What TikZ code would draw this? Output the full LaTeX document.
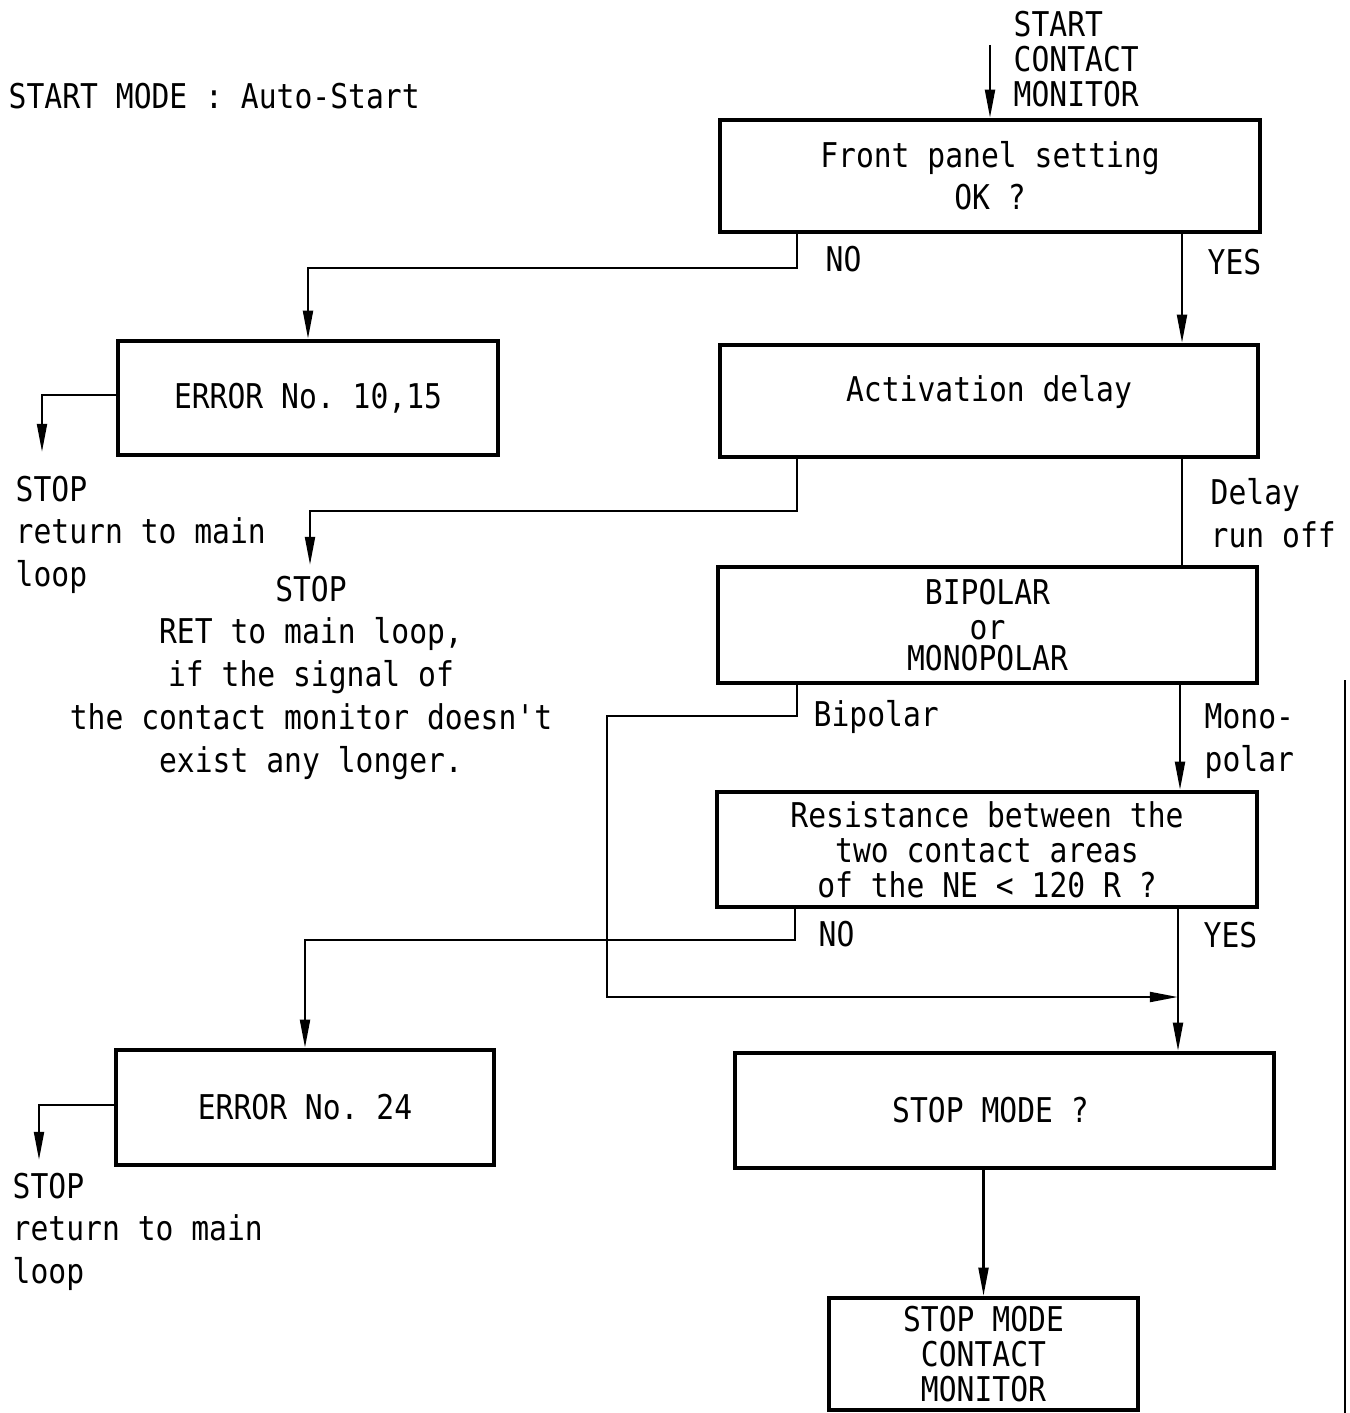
\documentclass[tikz,border=0pt]{standalone}
\usepackage{fontspec}
\setmonofont[FakeStretch=0.87]{DejaVu Sans Mono}
\usetikzlibrary{arrows.meta}

\begin{document}
\begin{tikzpicture}[x=0.01cm,y=-0.01cm,
  every node/.style={font=\ttfamily\fontsize{9.7}{10}\selectfont},
  box/.style={draw, line width=1.2pt, inner sep=0pt},
  wire/.style={line width=0.7pt},
  arr/.style={wire, -{Triangle[length=8pt,width=2.8pt]}},
  lbl/.style={inner sep=0pt, anchor=north west, align=left},
  lblwide/.style={lbl, font=\ttfamily\fontsize{9.7}{12.2}\selectfont},
]
\useasboundingbox (0,0) rectangle (1349,1413);

% title
\node[lbl] (title) at (8,82) {START MODE : Auto-Start};

% process and decision boxes
\node[box, align=center, minimum width=5.40cm, minimum height=1.12cm] (b1) at (990,176)
  {Front panel setting\\[0.07cm]OK ?};
\node[box, minimum width=3.80cm, minimum height=1.14cm] (err1) at (308,398)
  {ERROR No. 10,15};
\node[box, minimum width=5.38cm, minimum height=1.12cm,
      text height=0.25cm, text depth=0.24cm] (b2) at (989,401)
  {Activation delay};
\node[box, align=center, minimum width=5.39cm, minimum height=1.16cm] (b3) at (987.5,625)
  {BIPOLAR\\or\\[-0.05cm]MONOPOLAR};
\node[box, align=center, minimum width=5.40cm, minimum height=1.15cm] (b4) at (987,849.5)
  {Resistance between the\\two contact areas\\of the NE < 120 R ?};
\node[box, minimum width=3.78cm, minimum height=1.15cm] (err2) at (305,1107.5)
  {ERROR No. 24};
\node[box, minimum width=5.39cm, minimum height=1.15cm] (b6) at (1004.5,1110.5)
  {STOP MODE ?\hspace*{0.28cm}};
\node[box, align=center, minimum width=3.09cm, minimum height=1.12cm] (b7) at (983.5,1354)
  {STOP MODE\\CONTACT\\MONITOR};

% free labels
\node[lbl] (start) at (1013,10) {START\\CONTACT\\MONITOR};
\node[lbl] (no1) at (825,245) {NO};
\node[lbl] (yes1) at (1207,248) {YES};
\node[lblwide] (stop1) at (15,475) {STOP\\return to main\\loop};
\node[lblwide, anchor=north, align=center] (stop2) at (311,575)
  {STOP\\RET to main loop,\\if the signal of\\the contact monitor doesn't\\exist any longer.};
\node[lblwide] (delay) at (1210,478) {Delay\\run off};
\node[lbl] (bip) at (813,700) {Bipolar};
\node[lblwide] (mono) at (1204,703) {Mono-\\polar};
\node[lbl] (no2) at (818,920) {NO};
\node[lbl] (yes2) at (1203,921) {YES};
\node[lblwide] (stop3) at (12,1172) {STOP\\return to main\\loop};

% bend points and free ends
\coordinate (st) at (990,45);
\coordinate (k1) at (797,268);
\coordinate (k2) at (1182,300);
\coordinate (k3) at (42,395);
\coordinate (e1) at (42,452);
\coordinate (k4) at (797,511);
\coordinate (e2) at (310,565);
\coordinate (k5) at (797,716);
\coordinate (k6) at (607,997);
\coordinate (j)  at (1178,997);
\coordinate (k8) at (1180,700);
\coordinate (k9) at (795,940);
\coordinate (k10) at (1178,950);
\coordinate (k11) at (39,1105);
\coordinate (e3) at (39,1160);

% connectors
\draw[arr] (st) -- (b1.north -| st);
\draw[arr] (b1.south -| k1) -- (k1) -| (err1.north);
\draw[arr] (b1.south -| k2) -- (b2.north -| k2);
\draw[arr] (err1.west |- k3) -- (k3) -- (e1);
\draw[arr] (b2.south -| k4) -- (k4) -| (e2);
\draw[wire] (b2.south -| k2) -- (b3.north -| k2);
\draw[arr] (b3.south -| k5) -- (k5) -| (k6) -- (j);
\draw[arr] (b3.south -| k8) -- (b4.north -| k8);
\draw[arr] (b4.south -| k9) -- (k9) -| (err2.north);
\draw[arr] (b4.south -| k10) -- (b6.north -| k10);
\draw[arr] (err2.west |- k11) -- (k11) -- (e3);
\draw[arr] (b6.south -| b7.north) -- (b7.north);

% sheet edge on the right
\draw[line width=0.8pt] (1345,680) -- (1345,1413);
\end{tikzpicture}
\end{document}
